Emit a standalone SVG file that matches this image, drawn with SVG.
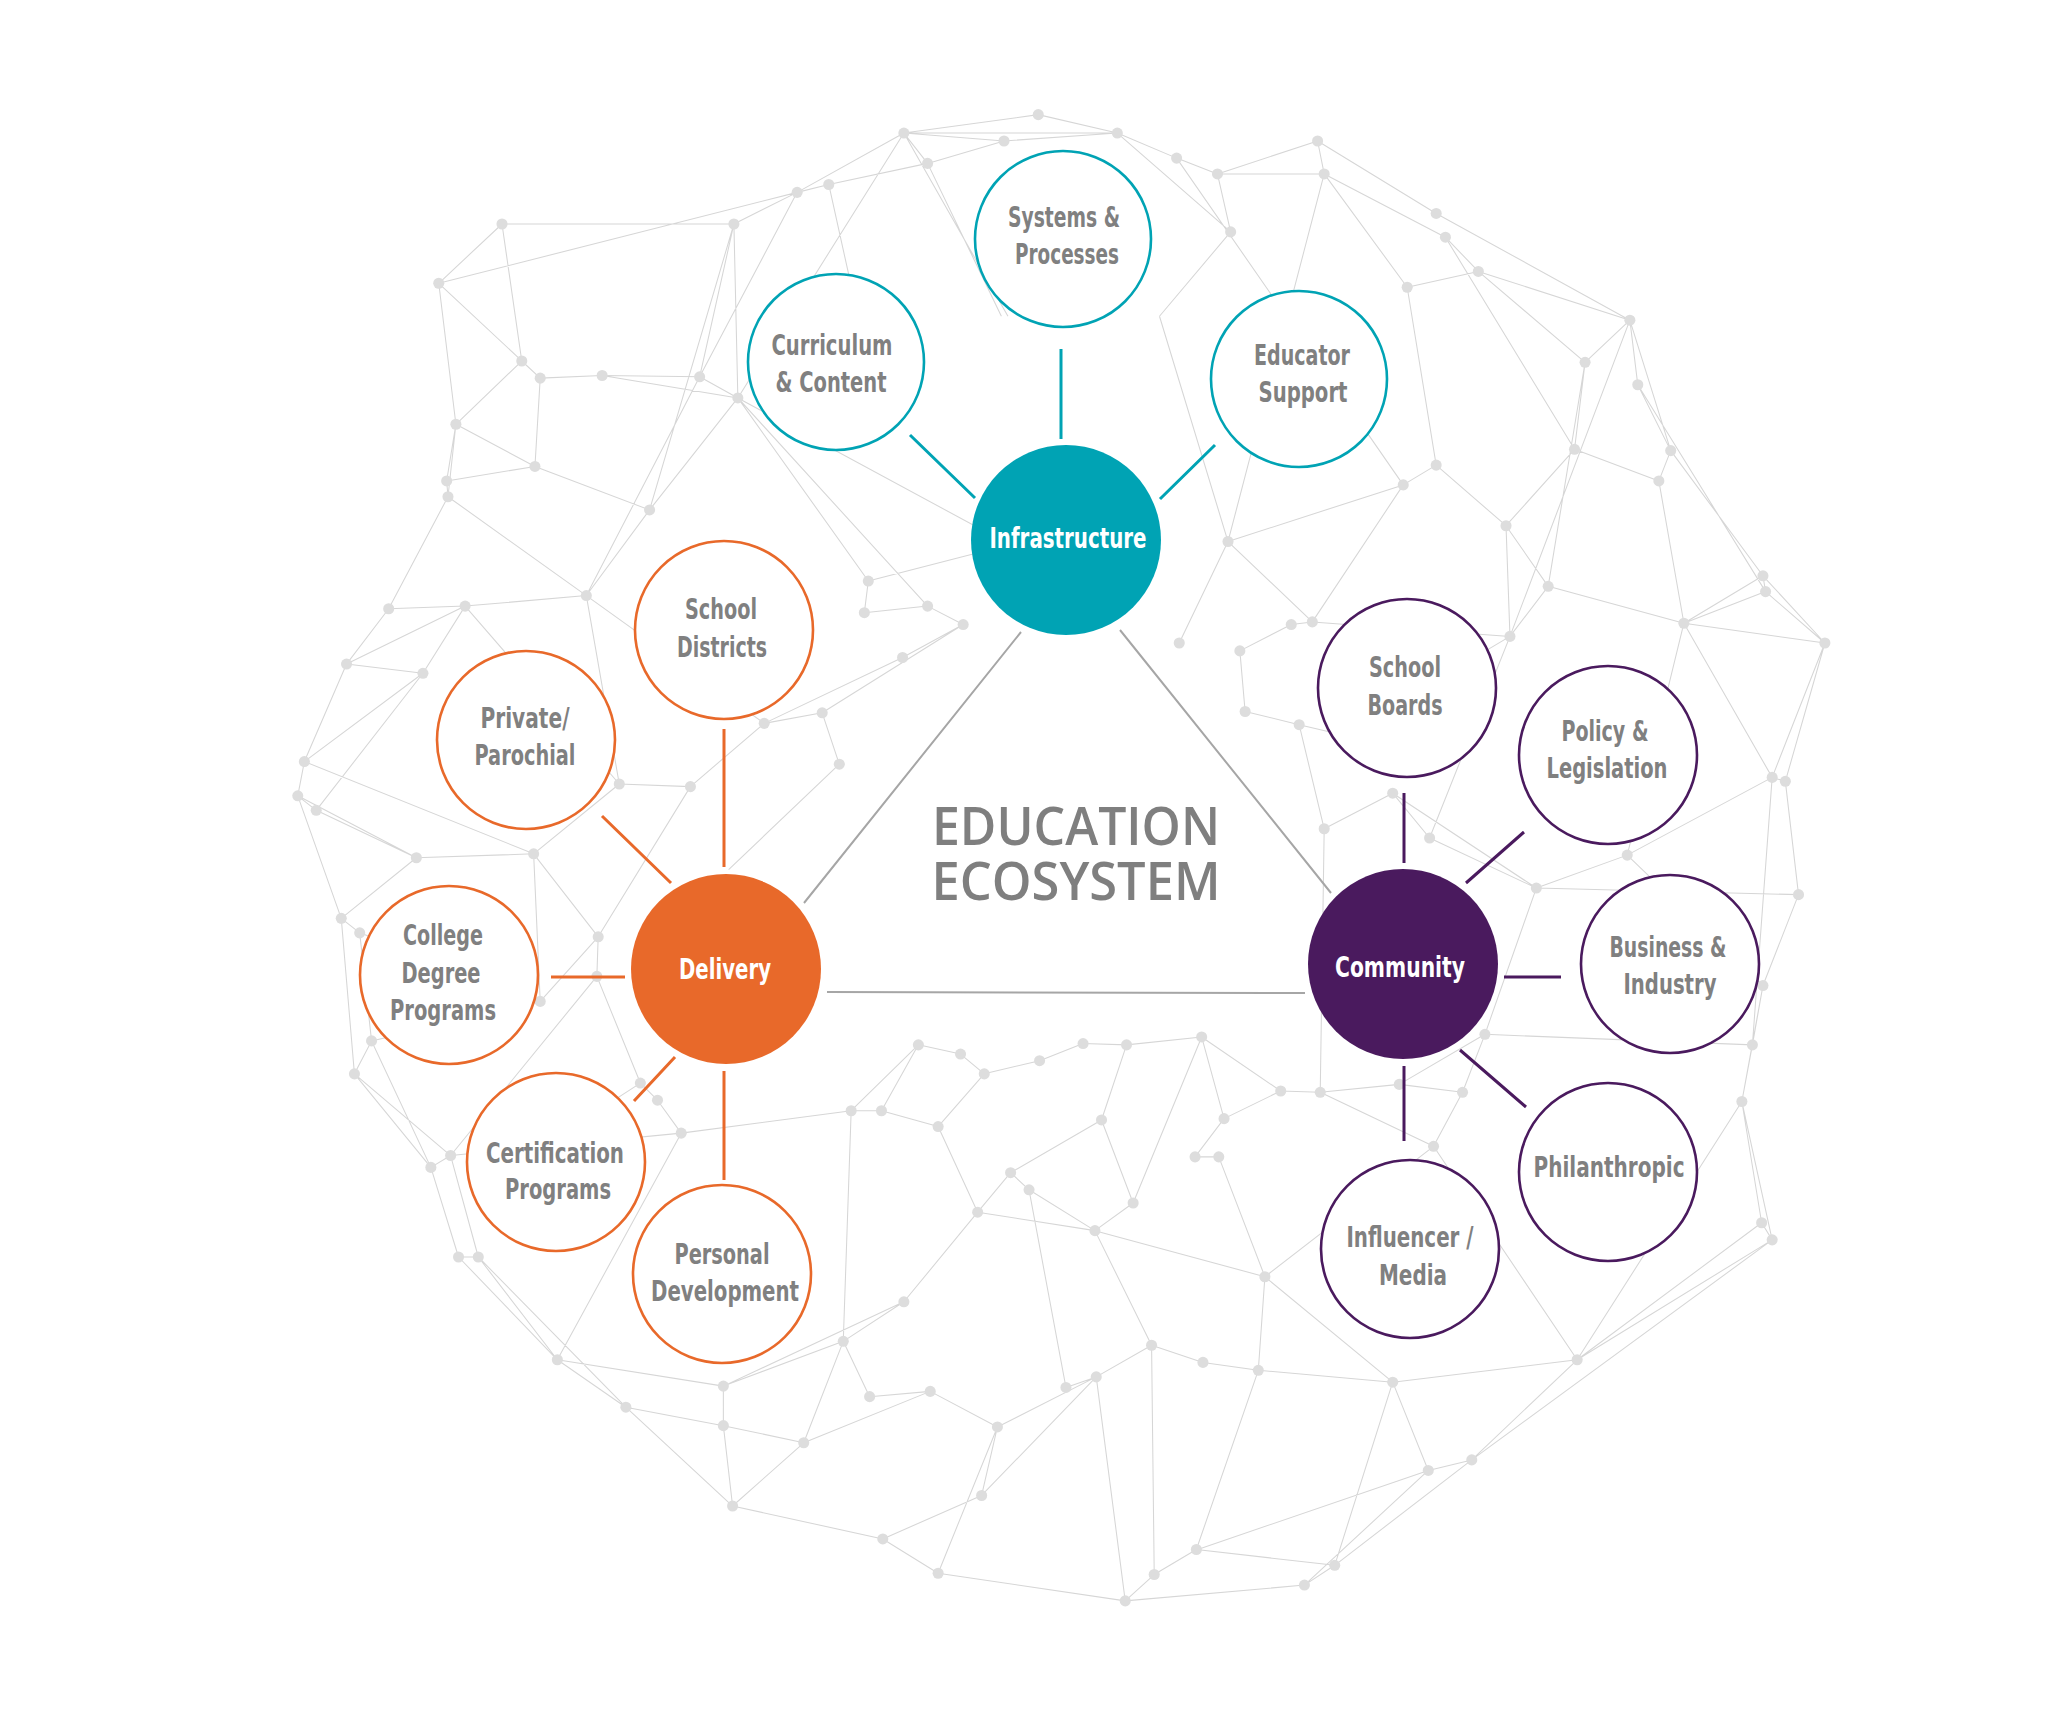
<svg xmlns="http://www.w3.org/2000/svg" width="2066" height="1718" viewBox="0 0 2066 1718">
<style>
.mesh{fill:none;stroke:#d6d6d6;stroke-width:0.8}
.d{fill:#dddddd}
.sat{fill:#fff;stroke-width:2.6}
.t{stroke:#00a3b4}.o{stroke:#e8692a}.p{stroke:#4a1a5e}
.con{stroke-width:3;fill:none}
.tri{stroke:#a6a6a6;stroke-width:2;fill:none}
.lbl{font-family:"Liberation Sans Narrow","DejaVu Sans Condensed","Liberation Sans",sans-serif;font-weight:bold;font-size:28px;fill:#808080;text-anchor:middle}
.hub{fill:#fff}
.title{font-family:"Open Sans","Liberation Sans",sans-serif;font-weight:600;font-size:52px;fill:#7f7f7f;text-anchor:middle}
</style>
<rect width="2066" height="1718" fill="#fff"/>
<g id="background-mesh" transform="scale(1.3176)">
<path class="mesh" d="M686 101L788 87M788 87L848 101M848 101L893 120M893 120L924 132M924 132L1000 107M1000 107L1090 162M1090 162L1237 243M1237 243L1268 342M1268 342L1338 437M1338 437L1385 488M1385 488L1355 593M1355 593L1365 679M1365 679L1338 748M1338 748L1322 836M1322 836L1345 941M1345 941L1197 1032M1197 1032L1117 1108M1117 1108L1013 1188M1013 1188L990 1203M990 1203L854 1215M854 1215L712 1194M712 1194L670 1168M670 1168L556 1143M556 1143L475 1068M475 1068L423 1032M423 1032L348 954M348 954L327 886M327 886L269 815M269 815L259 697M259 697L226 604M226 604L231 578M231 578L263 504M263 504L295 462M295 462L340 377M340 377L346 322M346 322L333 215M333 215L381 170M381 170L557 170M557 170L605 146M605 146L686 101
M686 101L762 107M686 101L848 101M686 101L704 124M686 101L560 302M686 101L765 240M762 107L848 101M762 107L704 124M704 124L629 140M704 124L760 240M629 140L605 146M605 146L333 215M557 170L560 302M557 170L531 286M848 101L934 176M924 132L934 176M924 132L1005 132M1000 107L1005 132M1005 132L1097 180M1005 132L1068 218M1097 180L1122 206M1122 206L1237 243M1122 206L1203 275M1068 218L1122 206M1068 218L1090 353M934 176L880 240M1237 243L1203 275M1237 243L1243 292M1203 275L1195 341M1243 292L1268 342M1195 341L1259 365M1195 341L1143 399M1259 365L1268 342M1259 365L1278 473M1090 353L1065 368M1090 353L1143 399M1065 368L932 411M1065 368L996 472M1143 399L1175 445M1143 399L1146 483M1175 445L1278 473M1175 445L1146 483M1278 473L1338 437M1278 473L1385 488M1278 473L1345 590M1338 437L1340 449M1340 449L1385 488M1146 483L1085 636M996 472L980 474M980 474L941 494M932 411L895 488M932 411L996 472M941 494L945 540M945 540L986 550M986 550L1005 629M1005 629L1057 602M1057 602L1085 636M1085 636L1166 674M1166 674L1235 649M1235 649L1345 590M1166 674L1365 679M1345 590L1355 593M1235 649L1278 473M1146 483L996 472M1020 558L986 550M1020 558L1146 483M1268 342L1338 437M1097 180L1195 341M1243 292L1340 449M1237 243L1146 483M1005 132L932 411M893 120L1065 368M1203 275L1175 445M1340 449L1278 473M880 240L932 411M1166 674L1057 602M1235 649L1338 748M1345 590L1330 793M1385 488L1345 590
M333 215L410 287M333 215L346 322M381 170L396 274M396 274L410 287M410 287L457 285M457 285L531 286M531 286L560 302M410 287L406 354M346 322L406 354M346 322L339 365M339 365L340 377M406 354L493 387M406 354L339 365M560 302L493 387M560 302L659 441M560 302L704 460M531 286L445 452M493 387L445 452M445 452L353 460M445 452L580 549M445 452L470 595M353 460L295 462M321 511L263 504M321 511L353 460M321 511L231 578M226 604L240 615M240 615L316 651M316 651L405 648M316 651L259 697M259 697L273 708M273 708L410 760M273 708L282 790M282 790L269 815M282 790L410 760M327 886L342 877M342 877L363 954M348 954L363 954M363 954L423 1032M410 760L454 711M454 711L453 741M453 741L486 822M486 822L499 835M499 835L517 860M517 860L342 877M470 595L524 597M524 597L580 549M580 549L624 541M624 541L637 580M624 541L731 474M659 441L656 465M656 465L704 460M704 460L731 474M731 474L685 499M685 499L580 549M470 595L405 648M405 648L454 711M637 580L553 660M659 441L740 420M353 460L470 595M340 377L445 452M560 302L760 410M457 285L560 302M396 274L346 322M321 511L240 615M231 578L405 648M226 604L316 651M259 697L316 651M405 648L410 760M282 790L327 886M269 815L342 877M454 711L524 597M453 741L342 877M486 822L412 870M605 146L531 286M629 140L660 280M557 170L493 387M340 377L295 462M263 504L353 460
M423 1032L549 1052M475 1068L549 1082M549 1082L549 1052M549 1082L610 1095M610 1095L556 1143M670 1168L745 1135M745 1135L757 1083M757 1083L706 1056M706 1056L660 1060M660 1060L640 1018M640 1018L686 988M686 988L742 920M742 920L767 890M767 890L781 903M781 903L831 934M831 934L860 913M860 913L836 850M836 850L855 793M855 793L822 792M822 792L789 805M789 805L747 815M747 815L729 800M729 800L697 793M697 793L669 843M669 843L646 843M669 843L712 855M712 855L742 920M712 855L747 815M646 843L517 860M646 843L640 1018M549 1052L640 1018M757 1083L832 1045M832 1045L809 1053M832 1045L874 1021M874 1021L913 1034M913 1034L955 1040M955 1040L1057 1049M1057 1049L1084 1116M1084 1116L1117 1108M1057 1049L1197 1032M955 1040L960 969M960 969L925 878M925 878L907 878M907 878L929 849M929 849L912 787M912 787L972 828M972 828L1002 829M1002 829L1062 823M1062 823L1110 829M1110 829L1127 785M1110 829L1088 870M1088 870L960 969M1088 870L1197 1032M1127 785L1330 793M1330 793L1322 836M1337 928L1345 941M1322 836L1337 928M908 1176L876 1195M876 1195L854 1215M908 1176L1013 1188M908 1176L955 1040M832 1045L854 1215M745 1135L832 1045M809 1053L781 903M831 934L874 1021M831 934L960 969M860 913L912 787M855 793L912 787M686 988L549 1052M990 1203L1084 1116M1013 1188L1057 1049M712 1194L854 1215M960 969L1057 1049M1002 829L1088 870M1338 748L1330 793M610 1095L706 1056M556 1143L549 1082M712 1194L757 1083M874 1021L876 1195M909 1176L1084 1116M1127 785L1062 823M1166 674L1127 785M1322 836L1197 1032M1337 928L1197 1032M1345 941L1117 1108M640 1018L610 1095M363 954L475 1068M423 1032L517 860M697 793L646 843M767 890L836 850M742 920L831 934M929 849L972 828M1002 829L1005 629"/>
<g class="d">
<circle cx="686" cy="101" r="4.2"/><circle cx="788" cy="87" r="4.2"/><circle cx="848" cy="101" r="4.2"/><circle cx="893" cy="120" r="4.2"/><circle cx="924" cy="132" r="4.2"/><circle cx="1000" cy="107" r="4.2"/><circle cx="1090" cy="162" r="4.2"/><circle cx="1237" cy="243" r="4.2"/><circle cx="1268" cy="342" r="4.2"/><circle cx="1338" cy="437" r="4.2"/><circle cx="1385" cy="488" r="4.2"/><circle cx="1355" cy="593" r="4.2"/><circle cx="1365" cy="679" r="4.2"/><circle cx="1338" cy="748" r="4.2"/><circle cx="1322" cy="836" r="4.2"/><circle cx="1345" cy="941" r="4.2"/><circle cx="1197" cy="1032" r="4.2"/><circle cx="1117" cy="1108" r="4.2"/><circle cx="1013" cy="1188" r="4.2"/><circle cx="990" cy="1203" r="4.2"/><circle cx="854" cy="1215" r="4.2"/><circle cx="712" cy="1194" r="4.2"/><circle cx="670" cy="1168" r="4.2"/><circle cx="556" cy="1143" r="4.2"/><circle cx="475" cy="1068" r="4.2"/><circle cx="423" cy="1032" r="4.2"/><circle cx="348" cy="954" r="4.2"/><circle cx="327" cy="886" r="4.2"/><circle cx="269" cy="815" r="4.2"/><circle cx="259" cy="697" r="4.2"/><circle cx="226" cy="604" r="4.2"/><circle cx="231" cy="578" r="4.2"/><circle cx="263" cy="504" r="4.2"/><circle cx="295" cy="462" r="4.2"/><circle cx="340" cy="377" r="4.2"/><circle cx="346" cy="322" r="4.2"/><circle cx="333" cy="215" r="4.2"/><circle cx="381" cy="170" r="4.2"/><circle cx="557" cy="170" r="4.2"/><circle cx="605" cy="146" r="4.2"/>
<circle cx="762" cy="107" r="4.2"/><circle cx="704" cy="124" r="4.2"/><circle cx="629" cy="140" r="4.2"/><circle cx="1005" cy="132" r="4.2"/><circle cx="934" cy="176" r="4.2"/><circle cx="1097" cy="180" r="4.2"/><circle cx="1122" cy="206" r="4.2"/><circle cx="1068" cy="218" r="4.2"/><circle cx="1203" cy="275" r="4.2"/><circle cx="1243" cy="292" r="4.2"/><circle cx="1195" cy="341" r="4.2"/><circle cx="1259" cy="365" r="4.2"/><circle cx="1090" cy="353" r="4.2"/><circle cx="1065" cy="368" r="4.2"/><circle cx="1143" cy="399" r="4.2"/><circle cx="932" cy="411" r="4.2"/><circle cx="1175" cy="445" r="4.2"/><circle cx="1278" cy="473" r="4.2"/><circle cx="1146" cy="483" r="4.2"/><circle cx="996" cy="472" r="4.2"/><circle cx="980" cy="474" r="4.2"/><circle cx="1340" cy="449" r="4.2"/>
<circle cx="396" cy="274" r="4.2"/><circle cx="410" cy="287" r="4.2"/><circle cx="457" cy="285" r="4.2"/><circle cx="531" cy="286" r="4.2"/><circle cx="560" cy="302" r="4.2"/><circle cx="406" cy="354" r="4.2"/><circle cx="339" cy="365" r="4.2"/><circle cx="493" cy="387" r="4.2"/><circle cx="445" cy="452" r="4.2"/><circle cx="353" cy="460" r="4.2"/><circle cx="321" cy="511" r="4.2"/><circle cx="240" cy="615" r="4.2"/><circle cx="659" cy="441" r="4.2"/><circle cx="656" cy="465" r="4.2"/><circle cx="704" cy="460" r="4.2"/><circle cx="731" cy="474" r="4.2"/><circle cx="685" cy="499" r="4.2"/><circle cx="580" cy="549" r="4.2"/><circle cx="624" cy="541" r="4.2"/><circle cx="637" cy="580" r="4.2"/><circle cx="470" cy="595" r="4.2"/><circle cx="524" cy="597" r="4.2"/><circle cx="405" cy="648" r="4.2"/><circle cx="316" cy="651" r="4.2"/><circle cx="273" cy="708" r="4.2"/><circle cx="454" cy="711" r="4.2"/><circle cx="453" cy="741" r="4.2"/><circle cx="410" cy="760" r="4.2"/><circle cx="282" cy="790" r="4.2"/><circle cx="342" cy="877" r="4.2"/><circle cx="363" cy="954" r="4.2"/><circle cx="486" cy="822" r="4.2"/><circle cx="499" cy="835" r="4.2"/><circle cx="517" cy="860" r="4.2"/>
<circle cx="941" cy="494" r="4.2"/><circle cx="895" cy="488" r="4.2"/><circle cx="945" cy="540" r="4.2"/><circle cx="986" cy="550" r="4.2"/><circle cx="1005" cy="629" r="4.2"/><circle cx="1057" cy="602" r="4.2"/><circle cx="1085" cy="636" r="4.2"/><circle cx="1166" cy="674" r="4.2"/><circle cx="1235" cy="649" r="4.2"/><circle cx="1345" cy="590" r="4.2"/><circle cx="1330" cy="793" r="4.2"/><circle cx="1337" cy="928" r="4.2"/><circle cx="1020" cy="558" r="4.2"/>
<circle cx="549" cy="1082" r="4.2"/><circle cx="549" cy="1052" r="4.2"/><circle cx="610" cy="1095" r="4.2"/><circle cx="745" cy="1135" r="4.2"/><circle cx="757" cy="1083" r="4.2"/><circle cx="876" cy="1195" r="4.2"/><circle cx="908" cy="1176" r="4.2"/><circle cx="1084" cy="1116" r="4.2"/><circle cx="1057" cy="1049" r="4.2"/><circle cx="955" cy="1040" r="4.2"/><circle cx="913" cy="1034" r="4.2"/><circle cx="832" cy="1045" r="4.2"/><circle cx="809" cy="1053" r="4.2"/><circle cx="874" cy="1021" r="4.2"/><circle cx="706" cy="1056" r="4.2"/><circle cx="660" cy="1060" r="4.2"/><circle cx="640" cy="1018" r="4.2"/><circle cx="686" cy="988" r="4.2"/><circle cx="742" cy="920" r="4.2"/><circle cx="767" cy="890" r="4.2"/><circle cx="781" cy="903" r="4.2"/><circle cx="831" cy="934" r="4.2"/><circle cx="860" cy="913" r="4.2"/><circle cx="912" cy="787" r="4.2"/><circle cx="929" cy="849" r="4.2"/><circle cx="925" cy="878" r="4.2"/><circle cx="907" cy="878" r="4.2"/><circle cx="960" cy="969" r="4.2"/><circle cx="972" cy="828" r="4.2"/><circle cx="1002" cy="829" r="4.2"/><circle cx="1062" cy="823" r="4.2"/><circle cx="1088" cy="870" r="4.2"/><circle cx="1127" cy="785" r="4.2"/><circle cx="1110" cy="829" r="4.2"/><circle cx="836" cy="850" r="4.2"/><circle cx="855" cy="793" r="4.2"/><circle cx="822" cy="792" r="4.2"/><circle cx="789" cy="805" r="4.2"/><circle cx="747" cy="815" r="4.2"/><circle cx="729" cy="800" r="4.2"/><circle cx="697" cy="793" r="4.2"/><circle cx="712" cy="855" r="4.2"/><circle cx="669" cy="843" r="4.2"/><circle cx="646" cy="843" r="4.2"/>
</g>
</g>
<g id="connectors">
<path class="tri" d="M1021 632L804 903M1120 630L1331 893M827 992L1305 993"/>
<path class="con t" d="M910 435L975 498M1061 349L1061 439M1215 445L1160 499"/>
<path class="con o" d="M724 729L724 867M602 816L671 883M551 977L625 977M675 1057L634 1101M724 1071L724 1180"/>
<path class="con p" d="M1404 793L1404 863M1524 832L1466 883M1504 977L1561 977M1460 1050L1526 1107M1404 1066L1404 1141"/>
</g>
<g id="title">
<text class="title" x="1076" y="845" textLength="288" lengthAdjust="spacingAndGlyphs">EDUCATION</text>
<text class="title" x="1076" y="900" textLength="289" lengthAdjust="spacingAndGlyphs">ECOSYSTEM</text>
</g>
<g id="infrastructure"><circle cx="1066" cy="540" r="95" fill="#00a3b4"/><text class="lbl hub" x="1068" y="548" textLength="157" lengthAdjust="spacingAndGlyphs">Infrastructure</text></g>
<g id="systems-processes"><circle class="sat t" cx="1063" cy="239" r="88"/><text class="lbl" x="1064" y="227" textLength="112" lengthAdjust="spacingAndGlyphs">Systems &amp;</text><text class="lbl" x="1067" y="264" textLength="104" lengthAdjust="spacingAndGlyphs">Processes</text></g>
<g id="curriculum-content"><circle class="sat t" cx="836" cy="362" r="88"/><text class="lbl" x="832" y="355" textLength="121" lengthAdjust="spacingAndGlyphs">Curriculum</text><text class="lbl" x="831" y="392" textLength="111" lengthAdjust="spacingAndGlyphs">&amp; Content</text></g>
<g id="educator-support"><circle class="sat t" cx="1299" cy="379" r="88"/><text class="lbl" x="1302" y="365" textLength="96" lengthAdjust="spacingAndGlyphs">Educator</text><text class="lbl" x="1303" y="402" textLength="89" lengthAdjust="spacingAndGlyphs">Support</text></g>
<g id="delivery"><circle cx="726" cy="969" r="95" fill="#e8692a"/><text class="lbl hub" x="725" y="979" textLength="92" lengthAdjust="spacingAndGlyphs">Delivery</text></g>
<g id="school-districts"><circle class="sat o" cx="724" cy="630" r="89"/><text class="lbl" x="721" y="619" textLength="72" lengthAdjust="spacingAndGlyphs">School</text><text class="lbl" x="722" y="657" textLength="90" lengthAdjust="spacingAndGlyphs">Districts</text></g>
<g id="private-parochial"><circle class="sat o" cx="526" cy="740" r="89"/><text class="lbl" x="525" y="728" textLength="89" lengthAdjust="spacingAndGlyphs">Private/</text><text class="lbl" x="525" y="765" textLength="101" lengthAdjust="spacingAndGlyphs">Parochial</text></g>
<g id="college-degree-programs"><circle class="sat o" cx="449" cy="975" r="89"/><text class="lbl" x="443" y="945" textLength="80" lengthAdjust="spacingAndGlyphs">College</text><text class="lbl" x="441" y="983" textLength="79" lengthAdjust="spacingAndGlyphs">Degree</text><text class="lbl" x="443" y="1020" textLength="106" lengthAdjust="spacingAndGlyphs">Programs</text></g>
<g id="certification-programs"><circle class="sat o" cx="556" cy="1162" r="89"/><text class="lbl" x="555" y="1163" textLength="138" lengthAdjust="spacingAndGlyphs">Certification</text><text class="lbl" x="558" y="1199" textLength="106" lengthAdjust="spacingAndGlyphs">Programs</text></g>
<g id="personal-development"><circle class="sat o" cx="722" cy="1274" r="89"/><text class="lbl" x="722" y="1264" textLength="95" lengthAdjust="spacingAndGlyphs">Personal</text><text class="lbl" x="725" y="1301" textLength="148" lengthAdjust="spacingAndGlyphs">Development</text></g>
<g id="community"><circle cx="1403" cy="964" r="95" fill="#4a1a5e"/><text class="lbl hub" x="1400" y="977" textLength="130" lengthAdjust="spacingAndGlyphs">Community</text></g>
<g id="school-boards"><circle class="sat p" cx="1407" cy="688" r="89"/><text class="lbl" x="1405" y="677" textLength="72" lengthAdjust="spacingAndGlyphs">School</text><text class="lbl" x="1405" y="715" textLength="75" lengthAdjust="spacingAndGlyphs">Boards</text></g>
<g id="policy-legislation"><circle class="sat p" cx="1608" cy="755" r="89"/><text class="lbl" x="1605" y="741" textLength="87" lengthAdjust="spacingAndGlyphs">Policy &amp;</text><text class="lbl" x="1607" y="778" textLength="121" lengthAdjust="spacingAndGlyphs">Legislation</text></g>
<g id="business-industry"><circle class="sat p" cx="1670" cy="964" r="89"/><text class="lbl" x="1668" y="957" textLength="117" lengthAdjust="spacingAndGlyphs">Business &amp;</text><text class="lbl" x="1670" y="994" textLength="93" lengthAdjust="spacingAndGlyphs">Industry</text></g>
<g id="philanthropic"><circle class="sat p" cx="1608" cy="1172" r="89"/><text class="lbl" x="1609" y="1177" textLength="151" lengthAdjust="spacingAndGlyphs">Philanthropic</text></g>
<g id="influencer-media"><circle class="sat p" cx="1410" cy="1249" r="89"/><text class="lbl" x="1410" y="1247" textLength="127" lengthAdjust="spacingAndGlyphs">Influencer /</text><text class="lbl" x="1413" y="1285" textLength="68" lengthAdjust="spacingAndGlyphs">Media</text></g>
</svg>
